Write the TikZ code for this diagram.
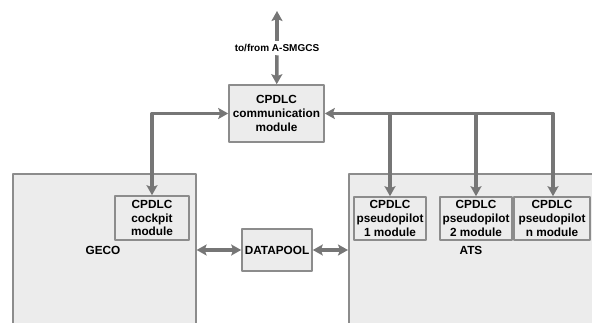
\documentclass[tikz,border=0pt]{standalone}
\usepackage{fontspec}
\setmainfont{Liberation Sans}
\usetikzlibrary{arrows.meta}
\definecolor{boxfill}{HTML}{ECECEC}
\definecolor{boxline}{HTML}{8C8C8C}
\definecolor{linkcol}{HTML}{767676}
\begin{document}
\begin{tikzpicture}[x=1pt,y=-1pt,font=\fontsize{11.8}{13.8}\selectfont\bfseries,
        line join=round,>={Stealth[length=10pt,width=11pt,inset=2pt]},
        module/.style={draw=boxline,line width=1.6pt,fill=boxfill,align=center,inner sep=0pt},
        system/.style={draw=boxline,line width=1.6pt,fill=boxfill,anchor=north west,inner sep=0pt},
        link/.style={draw=linkcol,line width=3.6pt}]
    \useasboundingbox (0,0) rectangle (592,323);
    \clip (0,0) rectangle (592,323);
    % the two systems
    \node[system,minimum width=183pt,minimum height=160pt] (geco) at (12,173) {};
    \node[system,minimum width=260pt,minimum height=160pt] (ats) at (348,173) {};
    \node (gecolabel) at (103,250) {GECO};
    \node (atslabel) at (471,250) {ATS};
    % modules
    \node[module,minimum width=95pt,minimum height=57pt] (comm) at (276.5,113.5) {CPDLC\\communication\\module};
    \node[module,minimum width=74pt,minimum height=44pt] (cockpit) at (152,218) {CPDLC\\cockpit\\module};
    \node[module,minimum width=70pt,minimum height=42pt] (datapool) at (277,250) {DATAPOOL};
    \node[module,minimum width=72pt,minimum height=43pt] (pp1) at (390,218.5) {CPDLC\\pseudopilot\\1 module};
    \node[module,minimum width=72pt,minimum height=43pt] (pp2) at (476,218.5) {CPDLC\\pseudopilot\\2 module};
    \node[module,minimum width=76pt,minimum height=43pt] (ppn) at (552,218.5) {CPDLC\\pseudopilot\\n module};
    % external link
    \node[font=\fontsize{10}{12}\selectfont\bfseries] (asmgcs) at (277,48) {to/from A-SMGCS};
    \coordinate (out) at (277,11);
    \draw[link,->] (asmgcs) -- (out);
    \draw[link,->] (asmgcs) -- (comm);
    % connectors
    \draw[link,<->] (comm.west) -| (cockpit.north);
    \draw[link,<->] (comm.east) -| ([xshift=1pt]ppn.north);
    \draw[link,->] (pp1.north |- comm.east) -- (pp1.north);
    \draw[link,->] (pp2.north |- comm.east) -- (pp2.north);
    \draw[link,<->] (datapool.west -| geco.east) -- (datapool.west);
    \draw[link,<->] (datapool.east) -- (datapool.east -| ats.west);
\end{tikzpicture}
\end{document}
